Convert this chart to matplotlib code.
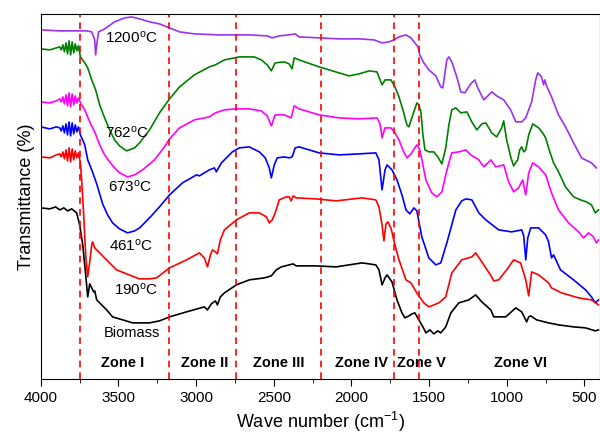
import numpy as np
import matplotlib.pyplot as plt
from matplotlib.ticker import MultipleLocator

# FTIR spectra, offset transmittance (arbitrary units)
wn_1200 = [4000, 3878, 3705, 3672, 3653, 3647, 3640, 3628, 3589, 3525, 3460, 3416, 3364, 3300, 3236, 3171,
           3107, 3011, 2850, 2658, 2542, 2510, 2465, 2401, 2362, 2337, 2208, 2080, 1951, 1855, 1803, 1759,
           1726, 1694, 1649, 1617, 1572, 1560, 1534, 1502, 1457, 1425, 1412, 1386, 1373, 1354, 1322, 1296,
           1270, 1232, 1206, 1187, 1148, 1116, 1097, 1065, 1020, 975, 942, 904, 878, 840, 814, 801, 776,
           763, 756, 744, 712, 667, 622, 570, 519, 455, 423]
t_1200 = [349, 348, 348, 347, 339, 324, 334, 347, 350, 357, 361, 362, 360, 357, 355, 351,
          347, 345, 344, 344, 343, 341, 343, 344, 345, 342, 341, 340, 340, 339, 336, 337,
          339, 342, 344, 341, 332, 324, 316, 309, 303, 292, 291, 319, 322, 317, 302, 287,
          286, 295, 299, 291, 279, 284, 287, 283, 279, 269, 257, 257, 261, 277, 299, 306, 302,
          294, 299, 293, 282, 264, 252, 236, 221, 216, 211]

# noisy part above 3750 cm-1 shares one grid
wn_noise = [3878, 3868, 3858, 3848, 3838, 3828, 3818, 3808, 3798, 3788, 3778, 3768, 3758]

wn_762 = [4000, 3942, 3900] + wn_noise + [
          3745, 3717, 3698, 3672, 3647, 3621, 3589, 3557, 3525, 3493, 3448, 3396, 3364, 3300, 3236, 3171,
          3107, 3011, 2915, 2876, 2818, 2722, 2626, 2581, 2542, 2516, 2491, 2433, 2401, 2382, 2369, 2337,
          2208, 2080, 2015, 1951, 1887, 1836, 1803, 1784, 1746, 1720, 1694, 1669, 1643, 1630, 1605, 1579,
          1566, 1553, 1540, 1527, 1502, 1470, 1444, 1418, 1393, 1373, 1354, 1328, 1296, 1257, 1225, 1193,
          1161, 1135, 1097, 1065, 1033, 1020, 1001, 975, 956, 930, 917, 904, 891, 878, 859, 833, 795, 769,
          750, 731, 699, 667, 622, 570, 525, 487, 455, 430, 410]
t_762 = [330, 329, 331,
         332, 329, 334, 327, 336, 325, 338, 324, 337, 326, 335, 328, 333,
         322, 316, 311, 299, 289, 274, 261, 249, 239, 233, 228, 231, 236, 249, 266, 280,
         292, 304, 312, 314, 319, 322, 322, 319, 314, 308, 316, 317, 315, 310, 321, 319,
         312, 306, 303, 305, 308, 307, 294, 299, 299, 292, 282, 269, 254, 252, 264, 276,
         274, 267, 244, 229, 227, 227, 222, 215, 231, 254, 269, 271, 266, 267, 257, 249,
         255, 256, 246, 242, 251, 258, 239, 222, 213, 219, 229, 232, 227, 229, 244, 255, 251, 246,
         241, 231, 216, 207, 192, 182, 179, 177, 174, 166, 169]

wn_673 = [4000, 3942, 3900] + wn_noise + [
          3745, 3717, 3685, 3653, 3621, 3589, 3557, 3525, 3493, 3441, 3396, 3345, 3268, 3204, 3171, 3107,
          3011, 2915, 2876, 2818, 2748, 2658, 2581, 2542, 2516, 2491, 2433, 2388, 2369, 2337, 2208, 2080,
          1951, 1836, 1816, 1803, 1784, 1746, 1720, 1694, 1669, 1643, 1617, 1592, 1579, 1560, 1540, 1521,
          1483, 1450, 1418, 1393, 1373, 1354, 1309, 1264, 1232, 1200, 1180, 1148, 1103, 1071, 1020, 988,
          956, 924, 898, 878, 859, 833, 795, 750, 712, 667, 602, 538, 506, 474, 442, 423, 410]
t_673 = [277, 276, 278,
         280, 277, 282, 275, 284, 273, 286, 272, 285, 274, 283, 276, 281,
         276, 269, 257, 247, 234, 224, 217, 211, 206, 202, 204, 209, 219, 232, 240, 251,
         259, 262, 266, 269, 270, 270, 268, 263, 253, 264, 264, 261, 273, 270, 264, 261,
         260, 261, 255, 241, 251, 251, 246, 239, 229, 221, 225, 231, 234, 229, 214, 199,
         186, 182, 187, 204, 216, 226, 227, 229, 224, 221, 219, 212, 219, 212, 214, 197,
         187, 191, 199, 184, 206, 216, 212, 204, 186, 169, 156, 147, 141, 146, 142, 136, 139]

wn_461 = [4000, 3942, 3900] + wn_noise + [
          3745, 3717, 3698, 3672, 3640, 3602, 3570, 3538, 3493, 3441, 3396, 3364, 3300, 3236, 3171, 3088,
          2998, 2979, 2915, 2882, 2870, 2837, 2767, 2722, 2658, 2593, 2555, 2529, 2516, 2497, 2478, 2433,
          2401, 2382, 2362, 2337, 2208, 2080, 1951, 1843, 1823, 1803, 1784, 1771, 1739, 1707, 1675, 1649,
          1624, 1598, 1579, 1547, 1502, 1457, 1425, 1386, 1328, 1290, 1264, 1225, 1180, 1135, 1052, 969,
          904, 891, 878, 865, 846, 795, 750, 731, 712, 699, 654, 570, 493, 455, 430, 410]
t_461 = [252, 250, 252,
         251, 248, 253, 246, 255, 244, 257, 243, 256, 245, 254, 247, 252,
         244, 234, 219, 209, 195, 175, 164, 156, 150, 146, 148, 151, 161, 172, 184, 196,
         204, 203, 209, 211, 207, 216, 227, 231, 232, 227, 221, 211, 201, 214, 221, 222,
         221, 222, 231, 232, 226, 224, 225, 226, 219, 189, 209, 214, 209, 199, 184, 169,
         165, 171, 168, 142, 121, 114, 116, 136, 169, 178, 180, 179, 166, 159, 149, 147,
         149, 143, 119, 141, 151, 151, 144, 137, 121, 124, 109, 99, 89, 82, 76, 79]

wn_190 = [4000, 3942, 3900] + wn_noise + [
          3745, 3737, 3724, 3711, 3698, 3685, 3672, 3666, 3653, 3640, 3621, 3557, 3512, 3448, 3364, 3300,
          3255, 3171, 3062, 2979, 2947, 2927, 2908, 2895, 2876, 2863, 2844, 2818, 2741, 2658, 2593, 2548,
          2529, 2510, 2491, 2465, 2420, 2401, 2388, 2375, 2356, 2228, 2099, 1932, 1843, 1823, 1803, 1791,
          1778, 1765, 1746, 1720, 1694, 1649, 1617, 1579, 1534, 1502, 1437, 1393, 1354, 1290, 1225, 1200,
          1161, 1097, 1084, 1052, 1001, 956, 911, 878, 859, 840, 795, 731, 712, 648, 538, 455, 410]
t_190 = [222, 221, 224,
         225, 222, 227, 220, 229, 218, 231, 217, 230, 219, 228, 221, 226,
         216, 199, 164, 124, 102, 117, 134, 137, 131, 129, 126, 116, 109, 105, 100, 100,
         101, 111, 119, 126, 121, 112, 124, 129, 127, 125, 139, 149, 159, 166, 166, 162,
         156, 159, 166, 179, 182, 182, 178, 183, 181, 180, 178, 181, 179, 172, 154, 138,
         155, 157, 151, 134, 119, 99, 96, 86, 76, 72, 76, 82, 106, 119, 122, 126,
         117, 102, 98, 99, 109, 119, 116, 99, 83, 107, 104, 96, 91, 86, 81, 79, 74]

wn_bio = [4000, 3942, 3904, 3878, 3852, 3827, 3801, 3769, 3750, 3730, 3711, 3698, 3685, 3672, 3660, 3653,
          3640, 3621, 3576, 3538, 3473, 3409, 3300, 3236, 3171, 3062, 2947, 2927, 2902, 2876, 2863, 2844,
          2818, 2741, 2658, 2561, 2516, 2484, 2452, 2401, 2375, 2356, 2228, 2099, 1932, 1843, 1823, 1803,
          1784, 1771, 1739, 1707, 1675, 1656, 1630, 1611, 1592, 1566, 1540, 1521, 1495, 1470, 1444, 1425,
          1393, 1360, 1309, 1245, 1200, 1161, 1103, 1084, 1007, 942, 904, 885, 872, 859, 846, 808, 731,
          667, 570, 493, 430, 410]
t_bio = [171, 170, 172, 169, 171, 168, 170, 166, 154, 134, 104, 82, 95, 91, 87, 88,
         79, 76, 69, 62, 59, 56, 56, 58, 62, 67, 72, 69, 75, 78, 74, 82,
         86, 94, 99, 101, 103, 109, 112, 114, 115, 113, 113, 112, 116, 114, 109, 94,
         101, 104, 97, 79, 66, 61, 63, 65, 66, 59, 52, 46, 49, 45, 48, 46,
         52, 66, 76, 79, 84, 77, 69, 62, 62, 71, 67, 61, 57, 62, 63, 59, 56,
         54, 52, 51, 48, 49]

zone_lines = [3750, 3175, 2745, 2195, 1725, 1565]
zone_names = ['Zone I', 'Zone II', 'Zone III', 'Zone IV', 'Zone V', 'Zone VI']
zone_pos = [3473, 2947, 2465, 1938, 1547, 911]

plt.rcParams['font.family'] = ['Liberation Sans', 'DejaVu Sans']
plt.rcParams['mathtext.default'] = 'regular'

fig = plt.figure(figsize=(6, 4.34), dpi=100)
ax = fig.add_axes([0.068, 0.127, 0.932, 0.841])

# 各温度的光谱
ax.plot(wn_1200, t_1200, color='#9a32f0', lw=1.2)
ax.plot(wn_762, t_762, color='#008000', lw=1.2)
ax.plot(wn_673, t_673, color='#ff00ff', lw=1.2)
ax.plot(wn_461, t_461, color='#0000ff', lw=1.2)
ax.plot(wn_190, t_190, color='#ff0000', lw=1.2)
ax.plot(wn_bio, t_bio, color='black', lw=1.2)

for x in zone_lines:
    ax.axvline(x, color='#ff0000', ls=(0, (4, 3)), lw=1.2)

for name, x in zip(zone_names, zone_pos):
    ax.text(x, 16, name, ha='center', va='center', fontsize=10.5, fontweight='bold')

# 温度标注
ax.text(3416, 341, '1200$^o$C', ha='center', va='center', fontsize=11)
ax.text(3441, 246, '762$^o$C', ha='center', va='center', fontsize=11)
ax.text(3428, 192, '673$^o$C', ha='center', va='center', fontsize=11)
ax.text(3416, 133, '461$^o$C', ha='center', va='center', fontsize=11)
ax.text(3384, 89, '190$^o$C', ha='center', va='center', fontsize=11)
ax.text(3416, 46, 'Biomass', ha='center', va='center', fontsize=10.5)

ax.set_xlim(4000, 400)
ax.set_ylim(0, 365)
ax.xaxis.set_major_locator(MultipleLocator(500))
ax.xaxis.set_minor_locator(MultipleLocator(250))
ax.tick_params(axis='x', direction='out', length=5, labelsize=11)
ax.tick_params(axis='x', which='minor', length=3)
ax.set_yticks([])
ax.set_xlabel('Wave number (cm$^{-1}$)', fontsize=13)
ax.set_ylabel('Transmittance (%)', fontsize=13)

plt.savefig('out.png', dpi=100)
